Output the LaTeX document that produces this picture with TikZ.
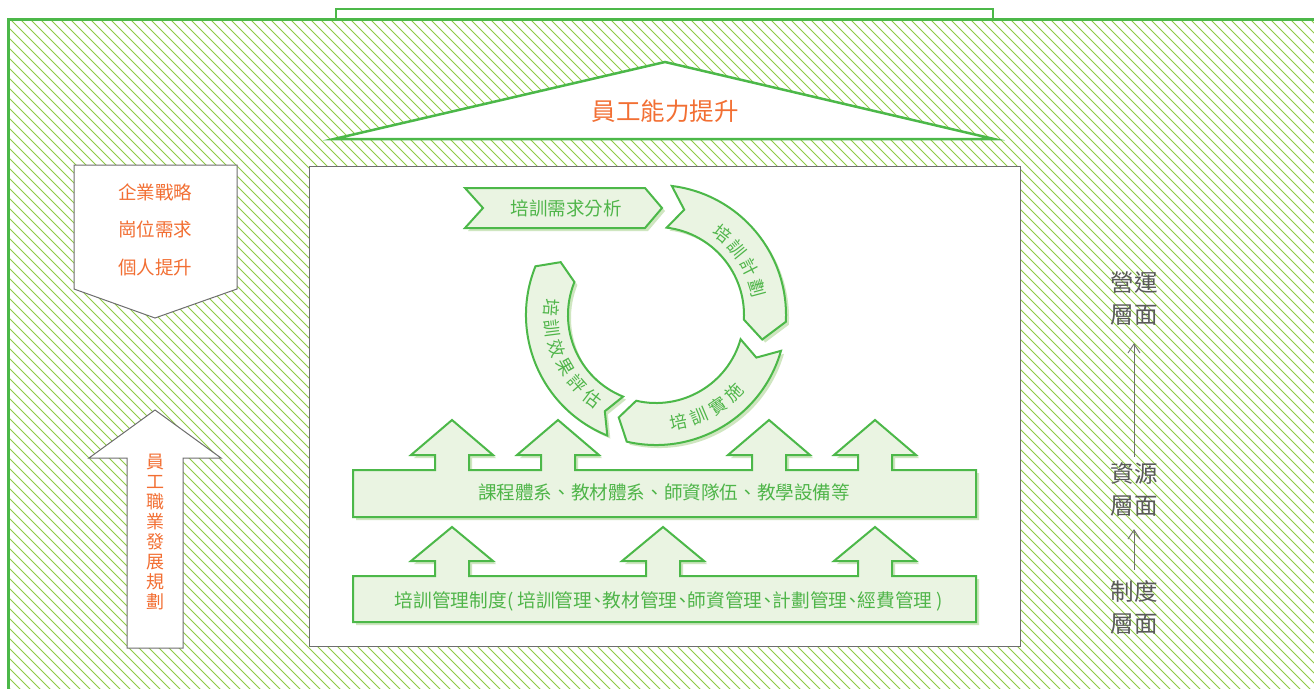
\documentclass[tikz,border=0pt]{standalone}
\usepackage{fontspec}
\setmainfont{Noto Sans CJK TC}
\usetikzlibrary{arrows.meta}
\definecolor{gline}{HTML}{4CB849}
\definecolor{hatchc}{HTML}{8FCB45}
\definecolor{lfill}{HTML}{EAF4E2}
\definecolor{lshadow}{HTML}{CFE6C0}
\definecolor{orangetxt}{HTML}{F26F33}
\definecolor{gtxt}{HTML}{4FB549}
\definecolor{graytxt}{HTML}{5A5A5A}
\definecolor{grayline}{HTML}{6E6E6E}
\newcommand\hcm{\makebox[0.55em][c]{、}}
\begin{document}
\begin{tikzpicture}[x=1pt,y=-1pt,
  greenedge/.style={draw=gline, line width=2.5pt, fill=white},
  graybox/.style={draw=grayline, line width=1pt, fill=white},
  lightshape/.style={draw=gline, line width=2pt, fill=lfill, line join=miter},
  shadowshape/.style={fill=lshadow},
  otxt/.style={text=orangetxt, inner sep=0pt},
  gtext/.style={text=gtxt, inner sep=0pt},
  arctxt/.style={text=gtxt, inner sep=0pt, font=\fontsize{17.5}{21}\selectfont},
  sidetxt/.style={text=graytxt, inner sep=0pt, align=center, font=\fontsize{23.5}{32}\selectfont},
  sidearrow/.style={draw=grayline, line width=0.9pt, -{Straight Barb[length=9pt,width=12pt]}},
  barshape/.style n args={5}{insert path={(353,#2) -- (353,#1)
      foreach \c in {#5} { -- (\c-17,#1) -- (\c-17,#3) -- (\c-41,#3) -- (\c,#4) -- (\c+41,#3) -- (\c+17,#3) -- (\c+17,#1) }
      -- (976,#1) -- (976,#2) -- cycle}},
  cycarrow/.style n args={4}{insert path={(#1:130) arc[start angle=#1, end angle=#2, radius=130]
      -- ({#2-#3}:109) -- (#2:88) arc[start angle=#2, end angle=#1, radius=88]
      -- ({#1-#4}:109) -- cycle}}
]
\useasboundingbox (0,0) rectangle (1314,688);

% hatched frame
\begin{scope}
  \clip (8,19) rectangle (1314,688);
  \foreach \k in {-680,-670,...,1320}
    \draw[hatchc, line width=0.95pt] (\k,19) -- ++(700,700);
\end{scope}
\draw[greenedge] (336,9) rectangle (993,19);
\draw[draw=gline, line width=3pt] (8,700) -- (8,19) -- (1330,19);

% roof triangle
\draw[greenedge] (334,139) -- (665,62) -- (994,139) -- cycle;
\node[otxt, font=\fontsize{24.5}{28}\selectfont] (cap) at (665,111) {員工能力提升};

% central box
\draw[graybox] (309,166) rectangle (1020,646);

% left pentagon
\draw[graybox] (74,165) -- (237,165) -- (237,289) -- (155,318) -- (74,289) -- cycle;
\node[otxt, align=center, font=\fontsize{18.5}{37.5}\selectfont] (goals) at (155,229.5) {企業戰略\\崗位需求\\個人提升};

% left up arrow
\draw[graybox] (127,648) -- (127,458) -- (89,458) -- (155,410) -- (221,458) -- (183,458) -- (183,648) -- cycle;
\node[otxt, align=center, font=\fontsize{18}{20}\selectfont] (career) at (155,532) {員\\工\\職\\業\\發\\展\\規\\劃};

% needs analysis chevron
\fill[shadowshape, shift={(3,3)}] (465,188) -- (645,188) -- (662,208) -- (645,228) -- (465,228) -- (483,208) -- cycle;
\draw[lightshape] (465,188) -- (645,188) -- (662,208) -- (645,228) -- (465,228) -- (483,208) -- cycle;
\node[gtext, font=\fontsize{18.5}{22}\selectfont] (need) at (566,208) {培訓需求分析};

% cycle
\begin{scope}[shift={(656,315)}, y=1pt]
  \path[shadowshape, shift={(3,-3)}, cycarrow={83}{-3}{10}{8}];
  \path[shadowshape, shift={(3,-3)}, cycarrow={-16}{-103}{7}{7}];
  \path[shadowshape, shift={(3,-3)}, cycarrow={-112}{-202}{7}{6}];
  \path[lightshape, cycarrow={83}{-3}{10}{8}];
  \path[lightshape, cycarrow={-16}{-103}{7}{7}];
  \path[lightshape, cycarrow={-112}{-202}{7}{6}];
  \foreach \ch [count=\i] in {培,訓,計,劃} {
    \pgfmathsetmacro\a{51-12*(\i-1)}
    \node[arctxt, rotate=\a-90] (plan\i) at (\a:105) {\ch};
  }
  \foreach \ch [count=\i] in {培,訓,實,施} {
    \pgfmathsetmacro\a{-78+11*(\i-1)}
    \node[arctxt, rotate=\a+90] (impl\i) at (\a:110) {\ch};
  }
  \foreach \ch [count=\i] in {培,訓,效,果,評,估} {
    \pgfmathsetmacro\a{176+11.3*(\i-1)}
    \node[arctxt, rotate=\a+90] (eval\i) at (\a:105) {\ch};
  }
\end{scope}

% resource bar
\path[shadowshape, shift={(3,3)}, barshape={470}{517}{455}{420}{452,558,769,875}];
\path[lightshape, barshape={470}{517}{455}{420}{452,558,769,875}];
\node[gtext, font=\fontsize{18.6}{22}\selectfont] (restext) at (664,492) {課程體系、教材體系、師資隊伍、教學設備等};

% system bar
\path[shadowshape, shift={(3,3)}, barshape={576}{622}{561}{527}{452,663,875}];
\path[lightshape, barshape={576}{622}{561}{527}{452,663,875}];
\node[gtext, font=\fontsize{18.7}{22}\selectfont] (systext) at (669,601) {培訓管理制度( 培訓管理\hcm 教材管理\hcm 師資管理\hcm 計劃管理\hcm 經費管理 )};

% right side levels
\node[sidetxt, minimum height=88pt] (ops) at (1134,299) {營運\\層面};
\node[sidetxt, minimum height=66pt] (resl) at (1134,490) {資源\\層面};
\node[sidetxt, minimum height=76pt] (sys) at (1134,608) {制度\\層面};
\draw[sidearrow] (resl.north) -- (ops.south);
\draw[sidearrow, shorten >=6pt] (sys.north) -- (resl.south);
\end{tikzpicture}
\end{document}
